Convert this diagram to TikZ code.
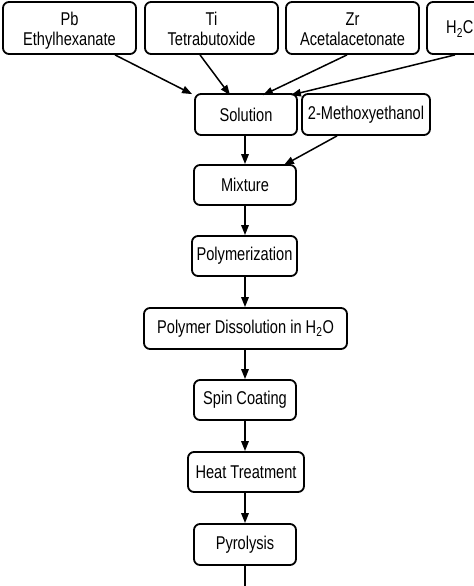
\documentclass[tikz,border=0pt]{standalone}
\usepackage{fontspec}
\setmainfont{Liberation Sans}[FakeStretch=0.79]
\usetikzlibrary{arrows.meta}
\begin{document}
\begin{tikzpicture}[x=1bp,y=-1bp,
  box/.style={draw, line width=1.8bp, rounded corners=6bp, fill=white, align=center,
    inner sep=0pt, font=\fontsize{18.5bp}{20bp}\selectfont},
  topbox/.style={box, minimum width=133bp, minimum height=52bp, text height=35bp, text depth=0bp},
  arr/.style={line width=1.5bp, -{Triangle[length=10bp,width=7.5bp]}}]
\useasboundingbox (0,0) rectangle (474,586);
\clip (0,0) rectangle (474,586);
\node[topbox] (pb) at (69.5,28) {Pb\\Ethylhexanate};
\node[topbox] (ti) at (211.5,28) {Ti\\Tetrabutoxide};
\node[topbox] (zr) at (352.5,28) {Zr\\Acetalacetonate};
\node[box, minimum width=133bp, minimum height=52bp] (hc) at (493.5,28) {};
\node[anchor=west, inner sep=0pt, font=\fontsize{18.5bp}{22bp}\selectfont] (hct) at (446,29) {H\textsubscript{2}C};
\node[box, minimum width=102bp, minimum height=41bp] (sol) at (246,114.5) {Solution};
\node[box, minimum width=128bp, minimum height=41bp] (meth) at (366,114.5) {2-Methoxyethanol};
\node[box, minimum width=102bp, minimum height=40bp] (mix) at (245,185) {Mixture};
\node[box, minimum width=105bp, minimum height=40bp] (poly) at (244.5,256) {Polymerization};
\node[box, minimum width=203bp, minimum height=41bp] (diss) at (245.5,328.5) {Polymer Dissolution in H\textsubscript{2}O};
\node[box, minimum width=102bp, minimum height=40bp] (spin) at (245,400) {Spin Coating};
\node[box, minimum width=116bp, minimum height=40bp] (heat) at (246,472) {Heat Treatment};
\node[box, minimum width=102bp, minimum height=41bp] (pyro) at (245,544.5) {Pyrolysis};
\coordinate (out) at (245,598);
\draw[arr] ([xshift=45.5bp]pb.south) -- ([xshift=-2bp,yshift=-1bp]sol.north west);
\draw[arr] ([xshift=-11.5bp]ti.south) -- ([xshift=-16bp,yshift=-2bp]sol.north);
\draw[arr] ([xshift=-5.5bp]zr.south) -- ([xshift=17bp,yshift=-2bp]sol.north);
\draw[arr] ([xshift=-38.5bp]hc.south) -- ([xshift=-7bp,yshift=-2bp]sol.north east);
\draw[arr] ([xshift=-1bp]sol.south) -- (mix.north);
\draw[arr] ([xshift=-29bp]meth.south) -- ([xshift=-13bp,yshift=-1bp]mix.north east);
\draw[arr] (mix.south) -- (poly.north -| mix.south);
\draw[arr] (poly.south -| mix.south) -- (diss.north -| mix.south);
\draw[arr] (diss.south -| mix.south) -- (spin.north);
\draw[arr] (spin.south) -- (heat.north -| spin.south);
\draw[arr] (heat.south -| spin.south) -- (pyro.north);
\draw[arr] (pyro.south) -- (out);
\end{tikzpicture}
\end{document}
